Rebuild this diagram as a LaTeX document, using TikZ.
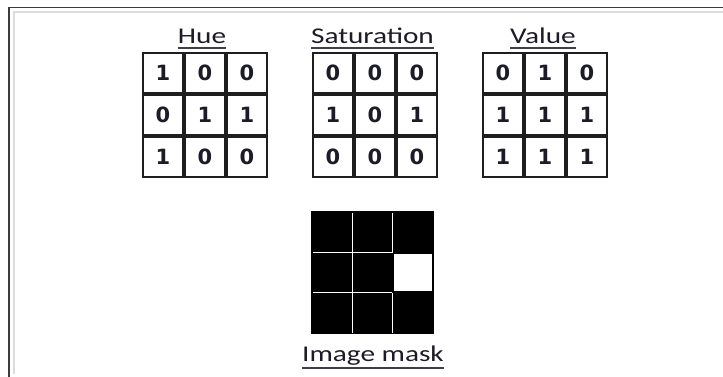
\documentclass[tikz,border=0pt]{standalone}
\usepackage{fontspec}
\usetikzlibrary{matrix}
\newfontfamily\calib[FakeStretch=1.3]{Carlito}
\newfontfamily\digits{DejaVu Sans}
\definecolor{inkc}{RGB}{28,28,40}
\definecolor{gridc}{RGB}{30,30,30}
\definecolor{framedark}{RGB}{60,60,60}
\definecolor{framelight}{RGB}{220,220,220}
\tikzset{
  cellbox/.style={draw=gridc, line width=2pt, minimum width=40pt, minimum height=40pt,
    inner sep=0pt, outer sep=0pt, text=inkc, font=\digits\bfseries\fontsize{21}{21}\selectfont},
  gridmat/.style={matrix of nodes, nodes={cellbox}, column sep=0pt, row sep=0pt,
    inner sep=0pt, outer sep=0pt, anchor=north west},
  title/.style={anchor=base, inner sep=0pt, outer sep=0pt, text=inkc,
    font=\calib\fontsize{22.5}{22.5}\selectfont},
  uline/.style={draw=inkc!85!white, line width=1.8pt},
  maskline/.style={draw=white, line width=1pt},
}
\begin{document}
\begin{tikzpicture}[x=1pt, y=-1pt]
  \useasboundingbox (0,0) rectangle (723,377);
  \fill[white] (0,0) rectangle (723,377);

  % window frame
  \draw[framelight, line width=2pt] (14,374) -- (14,12.5) -- (723,12.5);
  \draw[framedark, line width=1.5pt] (9,377) -- (9,7.5) -- (723,7.5);

  % the three channel grids
  \matrix (hue) [gridmat] at (142,52) { 1 & 0 & 0 \\ 0 & 1 & 1 \\ 1 & 0 & 0 \\ };
  \matrix (sat) [gridmat] at (312,52) { 0 & 0 & 0 \\ 1 & 0 & 1 \\ 0 & 0 & 0 \\ };
  \matrix (val) [gridmat] at (482,52) { 0 & 1 & 0 \\ 1 & 1 & 1 \\ 1 & 1 & 1 \\ };

  % underlined titles
  \node[title] (hueT) at (202,43.5) {Hue};
  \node[title] (satT) at (372.5,43.5) {Saturation};
  \node[title] (valT) at (543,43.5) {Value};
  \foreach \t in {hueT,satT,valT}
    \draw[uline] ([yshift=-4.8pt]\t.base west) -- ([yshift=-4.8pt]\t.base east);

  % resulting mask: black cells, one white cell
  \node[fill=black, minimum width=122.5pt, minimum height=122.5pt, inner sep=0pt, outer sep=0pt]
    (mask) at (372.25,272.5) {};
  \draw[maskline] (352.5,213) -- (352.5,332.5);
  \draw[maskline] (392,213) -- (392,252.5);
  \draw[maskline] (392,292.5) -- (392,332.5);
  \draw[maskline] (313,252.5) -- (392,252.5);
  \draw[maskline] (313,292.5) -- (392,292.5);
  \fill[white] (393.5,254) rectangle (431.5,290.7);

  \node[title] (maskT) at (373,361.5) {Image mask};
  \draw[uline] ([yshift=-6.5pt]maskT.base west) -- ([yshift=-6.5pt]maskT.base east);
\end{tikzpicture}
\end{document}
